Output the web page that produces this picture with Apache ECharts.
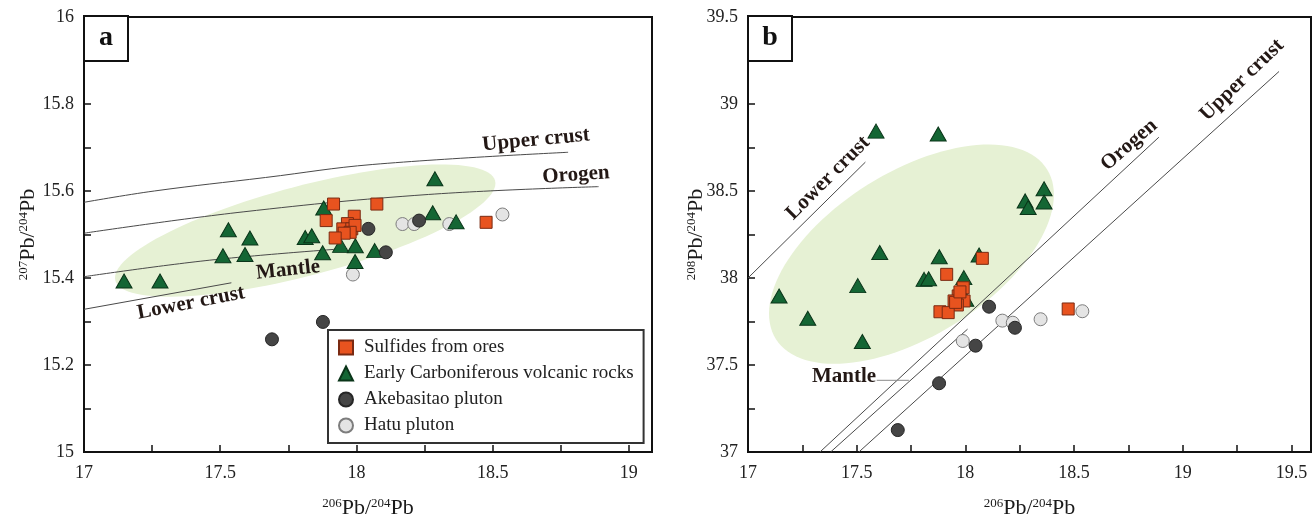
<!DOCTYPE html>
<html>
<head>
<meta charset="utf-8">
<script src="https://cdn.jsdelivr.net/npm/echarts@6/dist/echarts.min.js"></script>
<style>
html,body{margin:0;padding:0;background:#fff;}
#chart{width:1313px;height:518px;}
</style>
</head>
<body>
<div id="chart"></div>
<script>
// ---------- Data: panel a (207Pb/204Pb vs 206Pb/204Pb) ----------
const sulfideX_a = [17.916, 18.075, 17.889, 17.992, 17.967, 17.950, 17.983, 17.995, 17.977, 17.955, 17.922, 18.476];
const sulfideY_a = [15.570, 15.570, 15.532, 15.542, 15.525, 15.513, 15.513, 15.521, 15.505, 15.503, 15.492, 15.528];
const volcX_a = [17.147, 17.279, 17.530, 17.510, 17.609, 17.591, 17.812, 17.836, 17.880, 17.876, 17.942, 17.996, 17.995, 18.067, 18.288, 18.280, 18.366];
const volcY_a = [15.393, 15.393, 15.511, 15.451, 15.492, 15.454, 15.493, 15.497, 15.561, 15.458, 15.475, 15.474, 15.438, 15.463, 15.628, 15.550, 15.529];
const akeX_a = [17.690, 17.877, 18.044, 18.108, 18.230];
const akeY_a = [15.259, 15.299, 15.513, 15.459, 15.532];
const hatuX_a = [17.987, 18.169, 18.212, 18.341, 18.536];
const hatuY_a = [15.408, 15.524, 15.524, 15.524, 15.546];

// model curves, panel a
const upperCrustX_a = [17.0, 17.258, 17.666, 18.060, 18.777];
const upperCrustY_a = [15.574, 15.600, 15.631, 15.661, 15.689];
const orogenX_a = [17.0, 17.584, 18.264, 18.889];
const orogenY_a = [15.503, 15.552, 15.592, 15.610];
const mantleX_a = [17.0, 17.462, 17.966];
const mantleY_a = [15.403, 15.441, 15.468];
const lowerCrustX_a = [17.0, 17.541];
const lowerCrustY_a = [15.328, 15.389];
// field ellipse (data units): centre x, centre y, semi-axis 1 (dx, dy), semi-axis 2 (dx, dy)
const fieldEllipse_a = [17.812, 15.509, 0.697, 0.1147, 0.0419, -0.0998];

// ---------- Data: panel b (208Pb/204Pb vs 206Pb/204Pb) ----------
const sulfideX_b = [17.914, 18.078, 17.990, 17.967, 17.994, 17.948, 17.963, 17.883, 17.921, 18.473, 17.955, 17.975];
const sulfideY_b = [38.021, 38.113, 37.944, 37.897, 37.868, 37.868, 37.845, 37.806, 37.801, 37.822, 37.860, 37.920];
const volcX_b = [17.143, 17.275, 17.505, 17.526, 17.606, 17.589, 17.875, 17.880, 17.810, 17.831, 17.993, 18.063, 18.002, 18.275, 18.289, 18.362, 18.362];
const volcY_b = [37.897, 37.769, 37.956, 37.635, 38.147, 38.844, 38.828, 38.122, 37.992, 37.996, 38.002, 38.132, 37.878, 38.443, 38.405, 38.513, 38.437];
const akeX_b = [17.689, 17.879, 18.047, 18.109, 18.228];
const akeY_b = [37.126, 37.395, 37.611, 37.835, 37.714];
const hatuX_b = [17.988, 18.170, 18.218, 18.346, 18.538];
const hatuY_b = [37.638, 37.755, 37.743, 37.763, 37.809];

// model curves, panel b
const lowerCrustX_b = [17.0, 17.540];
const lowerCrustY_b = [38.0, 38.666];
const orogenX_b = [17.331, 18.890];
const orogenY_b = [37.0, 38.809];
const mantleX_b = [17.380, 18.010];
const mantleY_b = [37.0, 37.706];
const upperCrustX_b = [17.510, 19.443];
const upperCrustY_b = [37.0, 39.187];
const mantleLeaderX_b = [17.592, 17.740];
const mantleLeaderY_b = [37.412, 37.412];
const fieldEllipse_b = [17.752, 38.137, 0.624, 0.487, 0.200, -0.400];

// ---------- Axis settings ----------
const xMin = 17, xMaxA = 19.085, xMaxB = 19.59;
const yMinA = 15, yMaxA = 16, yMinB = 37, yMaxB = 39.5;

const legendNames = ['Sulfides from ores', 'Early Carboniferous volcanic rocks', 'Akebasitao pluton', 'Hatu pluton'];

// ---------- helpers ----------
const zip = (xs, ys) => xs.map((x, i) => [x, ys[i]]);
const fmt = v => String(parseFloat(v.toFixed(3)));
const isMult = (v, step) => Math.abs(v / step - Math.round(v / step)) < 1e-6;
const SERIF = '"Liberation Serif", "Times New Roman", serif';
const LINE_COLOR = '#4a4a4a';
const FIELD_COLOR = '#e6f1d4';

function ellipseSeries(e, gi) {
  return {
    type: 'custom', xAxisIndex: gi, yAxisIndex: gi, z: 1, silent: true,
    data: [[e[0], e[1]]],
    renderItem: function (params, api) {
      const pts = [];
      for (let i = 0; i < 120; i++) {
        const t = 2 * Math.PI * i / 120;
        pts.push(api.coord([
          e[0] + e[2] * Math.cos(t) + e[4] * Math.sin(t),
          e[1] + e[3] * Math.cos(t) + e[5] * Math.sin(t)
        ]));
      }
      return { type: 'polygon', shape: { points: pts }, style: { fill: FIELD_COLOR, stroke: null } };
    }
  };
}
function lineSeries(xs, ys, gi, color, smooth) {
  return {
    type: 'line', xAxisIndex: gi, yAxisIndex: gi, z: 2, silent: true,
    data: zip(xs, ys), symbol: 'none', smooth: smooth ? 0.4 : false,
    lineStyle: { color: color || LINE_COLOR, width: 1 }
  };
}
const markerStyles = {
  'Sulfides from ores': { symbol: 'rect', symbolSize: 12, itemStyle: { color: '#e8531f', borderColor: '#7a2a12', borderWidth: 1, opacity: 1 } },
  'Early Carboniferous volcanic rocks': { symbol: 'triangle', symbolSize: [16, 14], itemStyle: { color: '#146634', borderColor: '#0a3519', borderWidth: 1, opacity: 1 } },
  'Akebasitao pluton': { symbol: 'circle', symbolSize: 13, itemStyle: { color: '#454545', borderColor: '#262626', borderWidth: 1, opacity: 1 } },
  'Hatu pluton': { symbol: 'circle', symbolSize: 13, itemStyle: { color: '#e4e4e4', borderColor: '#7d7d7d', borderWidth: 1, opacity: 1 } }
};
function scatterSeries(name, xs, ys, gi) {
  const s = markerStyles[name];
  return Object.assign({
    type: 'scatter', name: name, xAxisIndex: gi, yAxisIndex: gi, z: 3,
    data: zip(xs, ys)
  }, s);
}
function axisName(iso) {
  return '{s|' + iso + '}{b|Pb/}{s|204}{b|Pb}';
}
const nameRich = {
  b: { fontFamily: SERIF, fontSize: 22, color: '#1a1a1a', lineHeight: 26 },
  s: { fontFamily: SERIF, fontSize: 13, color: '#1a1a1a', lineHeight: 26, verticalAlign: 'top', padding: [2, 0, 0, 0] }
};
function xAxisCfg(gi, max) {
  return {
    type: 'value', gridIndex: gi, min: xMin, max: max, interval: 0.25,
    name: axisName('206'), nameLocation: 'middle', nameGap: 43, nameMoveOverlap: false,
    nameTextStyle: { rich: nameRich },
    splitLine: { show: false },
    axisLine: { show: true, lineStyle: { color: '#111', width: 2 } },
    axisTick: { show: true, inside: true, length: 7, lineStyle: { color: '#111', width: 1.5 } },
    axisLabel: { margin: 12, fontFamily: SERIF, fontSize: 18, color: '#222',
      formatter: v => isMult(v, 0.5) ? fmt(v) : '' }
  };
}
function yAxisCfg(gi, min, max, interval, labelStep, iso, gap) {
  return {
    type: 'value', gridIndex: gi, min: min, max: max, interval: interval,
    name: axisName(iso), nameLocation: 'middle', nameRotate: 90, nameGap: gap, nameMoveOverlap: false,
    nameTextStyle: { rich: nameRich },
    splitLine: { show: false },
    axisLine: { show: true, lineStyle: { color: '#111', width: 2 } },
    axisTick: { show: true, inside: true, length: 7, lineStyle: { color: '#111', width: 1.5 } },
    axisLabel: { margin: 10, fontFamily: SERIF, fontSize: 18, color: '#222',
      formatter: v => isMult(v, labelStep) ? fmt(v) : '' }
  };
}
function annot(text, x, y, deg) {
  return { type: 'text', x: x, y: y, rotation: deg * Math.PI / 180, z: 10, silent: true,
    style: { text: text, font: 'bold 21px ' + SERIF, fill: '#231815', align: 'center', verticalAlign: 'middle' } };
}
function panelTag(text, x, y) {
  return [
    { type: 'rect', shape: { x: x, y: y, width: 44, height: 45 }, z: 10, silent: true,
      style: { fill: '#fff', stroke: '#111', lineWidth: 2 } },
    { type: 'text', x: x + 22, y: y + 22, z: 11, silent: true,
      style: { text: text, font: 'bold 28px ' + SERIF, fill: '#111', align: 'center', verticalAlign: 'middle' } }
  ];
}

const chart = echarts.init(document.getElementById('chart'), null, { renderer: 'canvas' });
const option = {
  animation: false,
  backgroundColor: '#fff',
  grid: [
    { left: 84, top: 17, width: 568, height: 435, show: true, borderColor: '#111', borderWidth: 2,
      backgroundColor: 'transparent', containLabel: false, outerBoundsMode: 'none' },
    { left: 748, top: 17, width: 563, height: 435, show: true, borderColor: '#111', borderWidth: 2,
      backgroundColor: 'transparent', containLabel: false, outerBoundsMode: 'none' }
  ],
  xAxis: [xAxisCfg(0, xMaxA), xAxisCfg(1, xMaxB)],
  yAxis: [
    yAxisCfg(0, yMinA, yMaxA, 0.1, 0.2, '207', 43),
    yAxisCfg(1, yMinB, yMaxB, 0.25, 0.5, '208', 39)
  ],
  legend: {
    data: legendNames, orient: 'vertical', left: 328, top: 330,
    itemWidth: 14, itemHeight: 14, itemGap: 7,
    padding: [8, 10, 8, 10],
    borderColor: '#333', borderWidth: 2, backgroundColor: '#fff',
    selectedMode: false, z: 20,
    textStyle: { fontFamily: SERIF, fontSize: 19, color: '#222', padding: [0, 0, 0, 6] }
  },
  series: [
    ellipseSeries(fieldEllipse_a, 0),
    lineSeries(upperCrustX_a, upperCrustY_a, 0, null, true),
    lineSeries(orogenX_a, orogenY_a, 0, null, true),
    lineSeries(mantleX_a, mantleY_a, 0, null, true),
    lineSeries(lowerCrustX_a, lowerCrustY_a, 0),
    scatterSeries('Hatu pluton', hatuX_a, hatuY_a, 0),
    scatterSeries('Early Carboniferous volcanic rocks', volcX_a, volcY_a, 0),
    scatterSeries('Akebasitao pluton', akeX_a, akeY_a, 0),
    scatterSeries('Sulfides from ores', sulfideX_a, sulfideY_a, 0),

    ellipseSeries(fieldEllipse_b, 1),
    lineSeries(lowerCrustX_b, lowerCrustY_b, 1),
    lineSeries(orogenX_b, orogenY_b, 1),
    lineSeries(mantleX_b, mantleY_b, 1),
    lineSeries(upperCrustX_b, upperCrustY_b, 1),
    lineSeries(mantleLeaderX_b, mantleLeaderY_b, 1, '#8a8a8a'),
    scatterSeries('Hatu pluton', hatuX_b, hatuY_b, 1),
    scatterSeries('Early Carboniferous volcanic rocks', volcX_b, volcY_b, 1),
    scatterSeries('Akebasitao pluton', akeX_b, akeY_b, 1),
    scatterSeries('Sulfides from ores', sulfideX_b, sulfideY_b, 1)
  ],
  graphic: [].concat(
    panelTag('a', 84, 16),
    panelTag('b', 748, 16),
    [
      annot('Upper crust', 536, 140, 5.3),
      annot('Orogen', 576, 175, 4),
      annot('Mantle', 288, 270, 6),
      annot('Lower crust', 191, 303, 11),
      annot('Lower crust', 828, 178, 45),
      annot('Orogen', 1129, 145, 41),
      annot('Upper crust', 1242, 80, 44),
      annot('Mantle', 844, 377, 0)
    ]
  )
};
chart.setOption(option);
</script>
</body>
</html>
